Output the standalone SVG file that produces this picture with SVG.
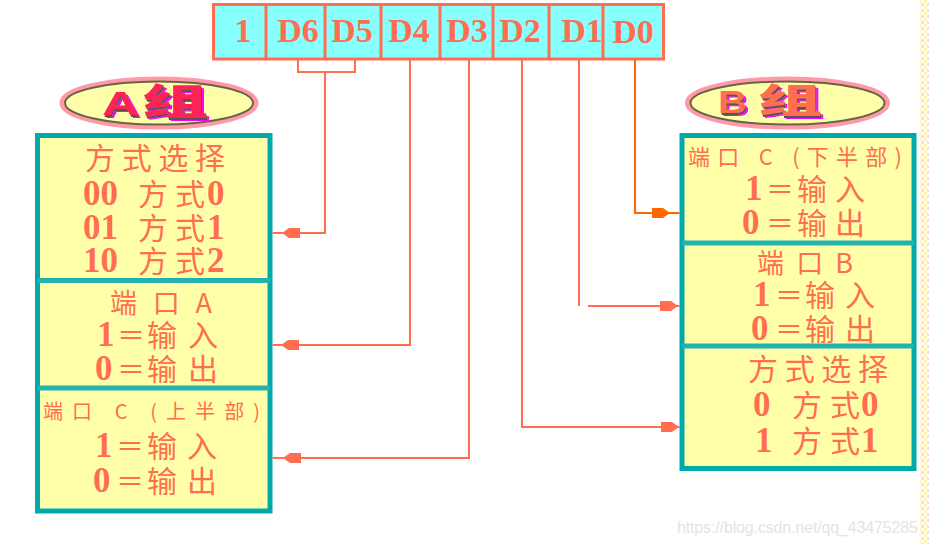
<svg xmlns="http://www.w3.org/2000/svg" width="929" height="544" viewBox="0 0 929 544">
<style>
.cjk{font-family:"Noto Sans CJK SC","Noto Sans CJK JP",sans-serif;fill:#ff6e50}
.num{font-family:"Liberation Serif",serif;font-weight:bold;fill:#ff6e50}
.reg{font-family:"Liberation Serif",serif;font-weight:bold;fill:#ff6e50;font-size:34px;text-anchor:middle}
.box{fill:#ffffaa;stroke:#00aaaa;stroke-width:5}
.div{stroke:#22b2b2;stroke-width:5}
.wire{fill:none;stroke:#ff6e50;stroke-width:2}
.wire0{fill:none;stroke:#ff6600;stroke-width:2}
.lat{font-family:"Liberation Sans",sans-serif;font-weight:bold}
.zu{font-family:"Noto Sans CJK SC","Noto Sans CJK JP",sans-serif;font-weight:900}
</style>
<defs>
<path id="arrL" d="M0,0 L7,-5 L18,-5 L18,5 L7,5 Z"/>
<path id="arrR" d="M0,0 L-7,-5 L-18,-5 L-18,5 L-7,5 Z"/>
<pattern id="dots" width="6" height="6" patternUnits="userSpaceOnUse">
<rect width="6" height="6" fill="#ffffff"/>
<rect x="0" y="0" width="3" height="3" fill="#fff3b0"/>
<rect x="3" y="3" width="3" height="3" fill="#ffd8d8"/>
</pattern>
<filter id="shadow" x="-20%" y="-30%" width="150%" height="170%">
<feFlood flood-color="#ff00ff" result="m"/>
<feComposite in="m" in2="SourceAlpha" operator="in" result="ms"/>
<feOffset in="ms" dx="2.5" dy="3" result="mo"/>
<feFlood flood-color="#555555" result="d"/>
<feComposite in="d" in2="SourceAlpha" operator="in" result="ds"/>
<feOffset in="ds" dx="1" dy="1.5" result="do"/>
<feMerge><feMergeNode in="mo"/><feMergeNode in="do"/><feMergeNode in="SourceGraphic"/></feMerge>
</filter>
</defs>
<rect width="929" height="544" fill="#ffffff"/>
<rect x="920" y="0" width="9" height="544" fill="url(#dots)"/>

<g id="register">
<rect x="213.5" y="4.5" width="450" height="54.5" fill="#88ffff" stroke="#ff6e50" stroke-width="3"/>
<path d="M266,4.5V59M325,4.5V59M381,4.5V59M440,4.5V59M493,4.5V59M549,4.5V59M603,4.5V59" stroke="#ff6e50" stroke-width="3"/>
<text class="reg" x="243" y="42">1</text>
<text class="reg" x="298" y="42">D6</text>
<text class="reg" x="352" y="42">D5</text>
<text class="reg" x="409" y="42">D4</text>
<text class="reg" x="467" y="42">D3</text>
<text class="reg" x="520" y="42">D2</text>
<text class="reg" x="582" y="42">D1</text>
<text class="reg" x="633" y="43">D0</text>
</g>

<g id="labelA">
<ellipse cx="159" cy="103" rx="97" ry="24" fill="#ffffaa" stroke="#ff99aa" stroke-width="5"/>
<ellipse cx="159" cy="103" rx="94" ry="21.5" fill="none" stroke="#666644" stroke-width="2"/>
<text y="115" fill="#ff2255" filter="url(#shadow)"><tspan class="lat" x="102" font-size="34" textLength="37" lengthAdjust="spacingAndGlyphs">A</tspan><tspan class="zu" x="142" font-size="36" textLength="66" lengthAdjust="spacingAndGlyphs">组</tspan></text>
</g>

<g id="labelB">
<ellipse cx="787.5" cy="103" rx="100" ry="24" fill="#ffffaa" stroke="#ff99aa" stroke-width="5"/>
<ellipse cx="787.5" cy="103" rx="97" ry="21.5" fill="none" stroke="#666644" stroke-width="2"/>
<text y="113" fill="#ff6e50" filter="url(#shadow)"><tspan class="lat" x="718" font-size="32" textLength="29" lengthAdjust="spacingAndGlyphs">B</tspan><tspan class="zu" x="758" font-size="34" textLength="64" lengthAdjust="spacingAndGlyphs">组</tspan></text>
</g>

<g id="groupA">
<rect class="box" x="37.5" y="135.5" width="232.5" height="375.5"/>
<path class="div" d="M37.5,280.5H270M37.5,388H270"/>
<g id="modeA">
<text class="cjk" x="85" y="169" font-size="30" textLength="140">方式选择</text>
<text y="205"><tspan class="num" x="83" font-size="35">00</tspan><tspan class="cjk" x="138" font-size="30" textLength="67">方式</tspan><tspan class="num" x="207" font-size="35">0</tspan></text>
<text y="239"><tspan class="num" x="83" font-size="35">01</tspan><tspan class="cjk" x="138" font-size="30" textLength="67">方式</tspan><tspan class="num" x="207" font-size="35">1</tspan></text>
<text y="272"><tspan class="num" x="83" font-size="35">10</tspan><tspan class="cjk" x="138" font-size="30" textLength="67">方式</tspan><tspan class="num" x="207" font-size="35">2</tspan></text>
</g>
<g id="portA">
<text class="cjk" x="110" y="313" font-size="27" textLength="102">端口A</text>
<text y="346"><tspan class="num" x="97" font-size="35">1</tspan><tspan class="cjk" x="117" font-size="28">＝</tspan><tspan class="cjk" x="147" font-size="30" textLength="71">输入</tspan></text>
<text y="380"><tspan class="num" x="95" font-size="35">0</tspan><tspan class="cjk" x="117" font-size="28">＝</tspan><tspan class="cjk" x="147" font-size="30" textLength="71">输出</tspan></text>
</g>
<g id="portCupper">
<text class="cjk" x="43" y="419" font-size="20" textLength="217">端口 C (上半部)</text>
<text y="457"><tspan class="num" x="95" font-size="35">1</tspan><tspan class="cjk" x="116" font-size="28">＝</tspan><tspan class="cjk" x="147" font-size="30" textLength="70">输入</tspan></text>
<text y="492"><tspan class="num" x="93" font-size="35">0</tspan><tspan class="cjk" x="116" font-size="28">＝</tspan><tspan class="cjk" x="147" font-size="30" textLength="70">输出</tspan></text>
</g>
</g>

<g id="groupB">
<rect class="box" x="682" y="135.5" width="232" height="333"/>
<path class="div" d="M682,243H914M682,346H914"/>
<g id="portClower">
<text class="cjk" x="688" y="165" font-size="22" textLength="214">端口 C (下半部)</text>
<text y="200"><tspan class="num" x="745" font-size="35">1</tspan><tspan class="cjk" x="766" font-size="28">＝</tspan><tspan class="cjk" x="797" font-size="30" textLength="68">输入</tspan></text>
<text y="234"><tspan class="num" x="742" font-size="35">0</tspan><tspan class="cjk" x="766" font-size="28">＝</tspan><tspan class="cjk" x="797" font-size="30" textLength="68">输出</tspan></text>
</g>
<g id="portB">
<text class="cjk" x="757" y="273" font-size="27" textLength="96">端口B</text>
<text y="306"><tspan class="num" x="753" font-size="35">1</tspan><tspan class="cjk" x="775" font-size="28">＝</tspan><tspan class="cjk" x="805" font-size="30" textLength="70">输入</tspan></text>
<text y="340"><tspan class="num" x="751" font-size="35">0</tspan><tspan class="cjk" x="775" font-size="28">＝</tspan><tspan class="cjk" x="805" font-size="30" textLength="70">输出</tspan></text>
</g>
<g id="modeB">
<text class="cjk" x="748" y="380" font-size="30" textLength="140">方式选择</text>
<text y="416"><tspan class="num" x="753" font-size="35">0</tspan><tspan class="cjk" x="792" font-size="30" textLength="68">方式</tspan><tspan class="num" x="861" font-size="35">0</tspan></text>
<text y="452"><tspan class="num" x="755" font-size="35">1</tspan><tspan class="cjk" x="792" font-size="30" textLength="68">方式</tspan><tspan class="num" x="861" font-size="35">1</tspan></text>
</g>
</g>

<g id="connectors">
<path class="wire" d="M298,59V72H355V59M325,72V233H272.5"/>
<path class="wire" d="M410,59V345H272.5"/>
<path class="wire" d="M469,59V458H272.5"/>
<path class="wire" d="M522,59V427H679.5"/>
<path class="wire" d="M579,59V306M588,306H679.5"/>
<path class="wire0" d="M635,59V213H679.5"/>
<g fill="#ff6e50">
<use href="#arrL" x="282" y="233"/>
<use href="#arrL" x="281" y="345"/>
<use href="#arrL" x="283" y="458"/>
<use href="#arrR" x="678" y="306"/>
<use href="#arrR" x="679" y="427"/>
</g>
<use href="#arrR" x="670" y="213" fill="#ff6600"/>
</g>

<text x="677" y="533" font-family="Liberation Sans,sans-serif" font-size="16" fill="#e4e4e4" textLength="241">https://blog.csdn.net/qq_43475285</text>
</svg>
